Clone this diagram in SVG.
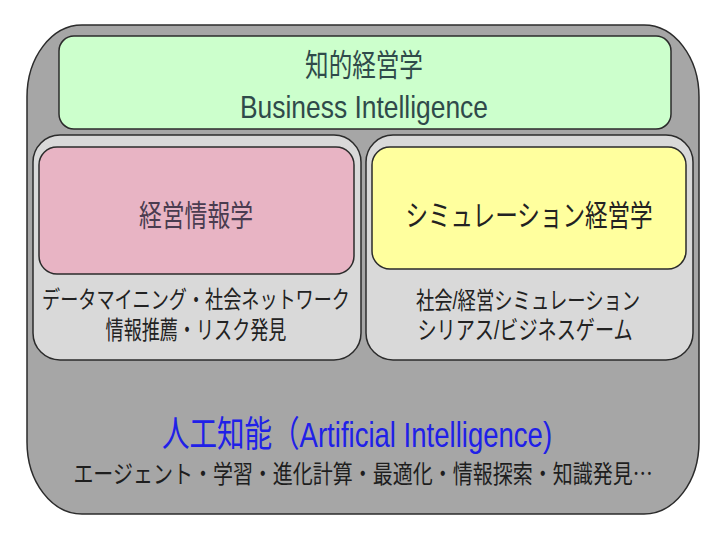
<svg xmlns="http://www.w3.org/2000/svg" width="720" height="540" viewBox="0 0 720 540">
<style>
text{font-family:"Liberation Sans","Noto Sans CJK JP",sans-serif;text-anchor:middle}
.box{stroke:#2b2b2b;stroke-width:1.5}
.cjk{font-family:"Noto Sans CJK JP","Liberation Sans",sans-serif}
.lat{font-family:"Liberation Sans","Noto Sans CJK JP",sans-serif}
</style>
<rect width="720" height="540" fill="#ffffff"/>
<g id="ai">
<rect class="box" x="27" y="25" width="672" height="489" rx="55" ry="72" fill="#a6a6a6"/>
<text transform="translate(357,447) scale(0.765,1)" x="0" y="0" font-size="36" fill="#2020e8">人工知能（Artificial Intelligence)</text>
<text class="cjk" transform="translate(363,483) scale(0.8,1)" x="0" y="0" font-size="25" fill="#1e1e1e">エージェント・学習・進化計算・最適化・情報探索・知識発見…</text>
</g>
<g id="bi">
<rect class="box" x="59" y="36" width="612" height="93" rx="15" fill="#ccffcc" stroke="#203020"/>
<text class="cjk" transform="translate(364,76) scale(0.761,1)" x="0" y="0" font-size="31" fill="#2f4a4a">知的経営学</text>
<text transform="translate(364,118) scale(0.825,1)" x="0" y="0" font-size="32" fill="#2f4a4a">Business Intelligence</text>
</g>
<g id="left-panel">
<rect class="box" x="33" y="135" width="328" height="225" rx="27" fill="#d9d9d9"/>
<text class="lat" transform="translate(196,308) scale(0.755,1)" x="0" y="0" font-size="24" fill="#222">データマイニング・社会ネットワーク</text>
<text class="lat" transform="translate(196,339) scale(0.724,1)" x="0" y="0" font-size="25" fill="#222">情報推薦・リスク発見</text>
</g>
<g id="mis">
<rect class="box" x="39" y="147" width="315" height="127" rx="18" fill="#e8b4c4"/>
<text class="cjk" transform="translate(196,226) scale(0.76,1)" x="0" y="0" font-size="30" fill="#4a3c50">経営情報学</text>
</g>
<g id="right-panel">
<rect class="box" x="366" y="135" width="327" height="225" rx="27" fill="#d9d9d9"/>
<text class="lat" transform="translate(528,309) scale(0.764,1)" x="0" y="0" font-size="24" fill="#222">社会/経営シミュレーション</text>
<text class="lat" transform="translate(525,339) scale(0.766,1)" x="0" y="0" font-size="25" fill="#222">シリアス/ビジネスゲーム</text>
</g>
<g id="sim">
<rect class="box" x="372" y="147" width="314" height="122" rx="18" fill="#ffff9e"/>
<text class="cjk" transform="translate(529,226) scale(0.752,1)" x="0" y="0" font-size="30" fill="#222">シミュレーション経営学</text>
</g>
<g id="connectors"/>
</svg>
